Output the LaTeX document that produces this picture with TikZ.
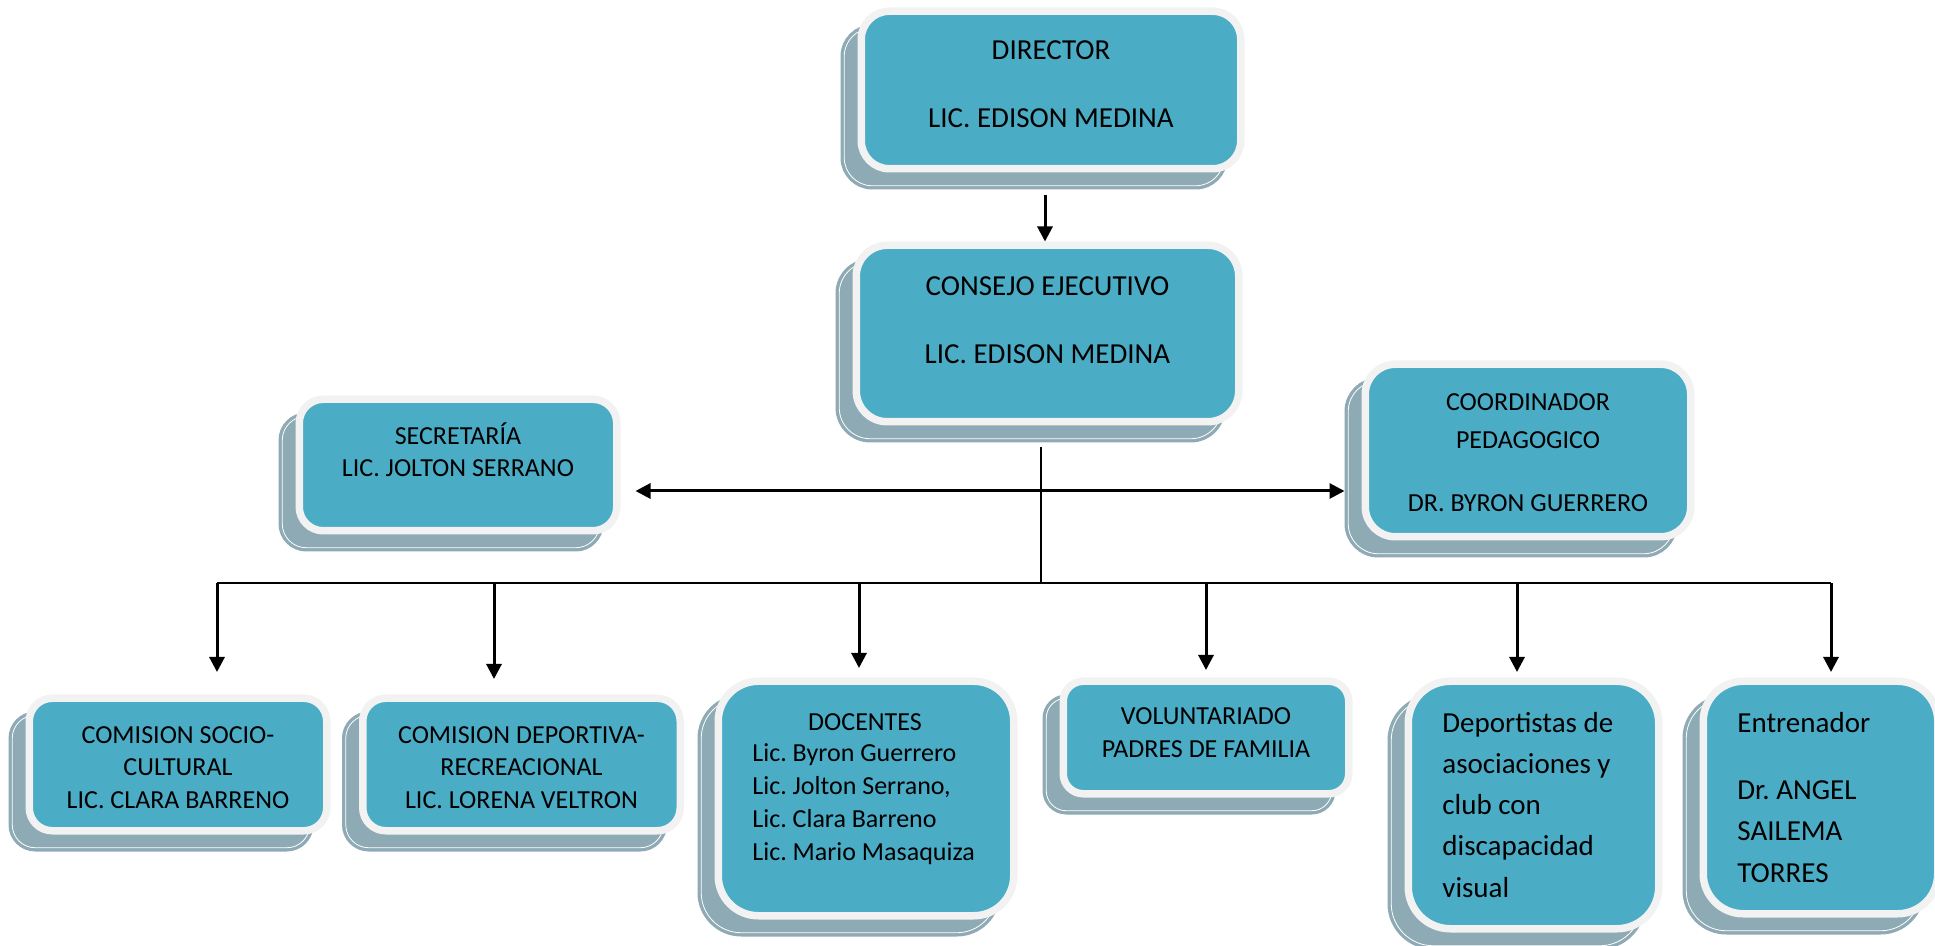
\documentclass[tikz,border=0pt]{standalone}
\usepackage{fontspec}
\setmainfont{Carlito}
\frenchspacing
\usetikzlibrary{arrows.meta,calc}
\definecolor{boxfill}{RGB}{75,172,198}
\definecolor{boxrim}{RGB}{242,242,242}
\definecolor{boxshade}{RGB}{142,170,180}
\begin{document}
\begin{tikzpicture}[x=0.5pt,y=-0.5pt,
  orgbox/.style={rectangle, fill=boxfill, draw=boxrim, line width=3.75pt, inner sep=0pt,
    preaction={fill=boxshade, draw=boxshade, line width=3.75pt,
      transform canvas={shift={(-8.5pt,-8.5pt)}}},
    preaction={draw=white, line width=0.4pt,
      transform canvas={shift={(-8.5pt,-8.5pt)}}}},
  lbl/.style={inner sep=0pt, align=center, font=\fontsize{13pt}{16pt}\selectfont},
  arr/.style={-{Triangle[length=7.5pt,width=7.5pt]}, line width=1.5pt},
  dbl/.style={{Triangle[length=7.5pt,width=7.5pt]}-{Triangle[length=7.5pt,width=7.5pt]}, line width=1.5pt},
  plain/.style={line width=1pt}
]
\useasboundingbox (0,0) rectangle (1935,946);

% boxes
\node[orgbox, minimum width=189.75pt, minimum height=78.75pt, rounded corners=14pt] (director) at (1051,90) {};
\node[orgbox, minimum width=191.25pt, minimum height=88.25pt, rounded corners=15.5pt] (consejo) at (1047.5,333.5) {};
\node[orgbox, minimum width=158.75pt, minimum height=65.75pt, rounded corners=12pt] (secretaria) at (458,465) {};
\node[orgbox, minimum width=162.75pt, minimum height=86.25pt, rounded corners=15pt] (coordinador) at (1528,450.5) {};
\node[orgbox, minimum width=148.75pt, minimum height=66.25pt, rounded corners=11.5pt] (socio) at (178,764.5) {};
\node[orgbox, minimum width=158.75pt, minimum height=66.25pt, rounded corners=11.5pt] (deportiva) at (521.5,764.5) {};
\node[orgbox, minimum width=147.75pt, minimum height=117.25pt, rounded corners=20pt] (docentes) at (866,798.5) {};
\node[orgbox, minimum width=142.75pt, minimum height=56.25pt, rounded corners=10pt] (voluntariado) at (1206,737.5) {};
\node[orgbox, minimum width=125.25pt, minimum height=123.75pt, rounded corners=21pt] (deportistas) at (1533.5,805) {};
\node[orgbox, minimum width=117.25pt, minimum height=116.25pt, rounded corners=20pt] (entrenador) at (1820.5,797.5) {};

% texts (each node is anchored on the baseline of its last line)
\node[lbl, font=\fontsize{14.5pt}{34pt}\selectfont, anchor=base] (director-t) at (1051,127.3) {DIRECTOR\\LIC. EDISON MEDINA};
\node[lbl, font=\fontsize{14.5pt}{34pt}\selectfont, anchor=base] (consejo-t) at (1047.5,363.3) {CONSEJO EJECUTIVO\\LIC. EDISON MEDINA};
\node[lbl, anchor=base] (secretaria-t) at (458,476.4) {SECRETARÍA\\LIC. JOLTON SERRANO};
\node[lbl, font=\fontsize{13pt}{19pt}\selectfont, anchor=base] (coordinador-t) at (1528,511.4) {COORDINADOR\\PEDAGOGICO\\[12.5pt]DR. BYRON GUERRERO};
\node[lbl, font=\fontsize{13pt}{16.25pt}\selectfont, anchor=base] (socio-t) at (178,808.4) {COMISION SOCIO-\\CULTURAL\\LIC. CLARA BARRENO};
\node[lbl, font=\fontsize{13pt}{16.25pt}\selectfont, anchor=base] (deportiva-t) at (521.5,808.4) {COMISION DEPORTIVA-\\RECREACIONAL\\LIC. LORENA VELTRON};
\node[lbl, anchor=base] (docentes-h) at (865,730.4) {DOCENTES};
\node[lbl, align=left, font=\fontsize{13pt}{16.5pt}\selectfont, anchor=base west] (docentes-t) at (752,860.4) {Lic. Byron Guerrero\\Lic. Jolton Serrano,\\Lic. Clara Barreno\\Lic. Mario Masaquiza};
\node[lbl, font=\fontsize{13pt}{16.5pt}\selectfont, anchor=base] (voluntariado-t) at (1206,757.4) {VOLUNTARIADO\\PADRES DE FAMILIA};
\node[lbl, align=left, font=\fontsize{14.5pt}{20.6pt}\selectfont, anchor=base west] (deportistas-t) at (1442,897.1) {Deportistas de\\asociaciones y\\club con\\discapacidad\\visual};
\node[lbl, align=left, font=\fontsize{14.5pt}{20.75pt}\selectfont, anchor=base west] (entrenador-t) at (1737,882.3) {Entrenador\\[12.75pt]Dr. ANGEL\\SAILEMA\\TORRES};

% connector points
\coordinate (a0) at (1045,195);
\coordinate (t0) at (1041,447);
\coordinate (hub) at (1041,491);
\coordinate (bus) at (1041,583);
\coordinate (d1) at (217,672);
\coordinate (d2) at (494,679);
\coordinate (d3) at (859,668);
\coordinate (d4) at (1206,670);
\coordinate (d5) at (1517,672);
\coordinate (d6) at (1831,672);

% connectors
\draw[arr] (a0) -- (a0 |- consejo.north);
\draw[plain] (t0) -- (bus);
\draw[dbl] ($(secretaria.east |- hub)+(7.5pt,0)$) -- ($(coordinador.west |- hub)+(-8.5pt,0)$);
\draw[plain] (d1 |- bus) -- (d6 |- bus);
\foreach \d in {d1,d2,d3,d4,d5,d6}
  \draw[arr] (\d |- bus) -- (\d);
\end{tikzpicture}
\end{document}
